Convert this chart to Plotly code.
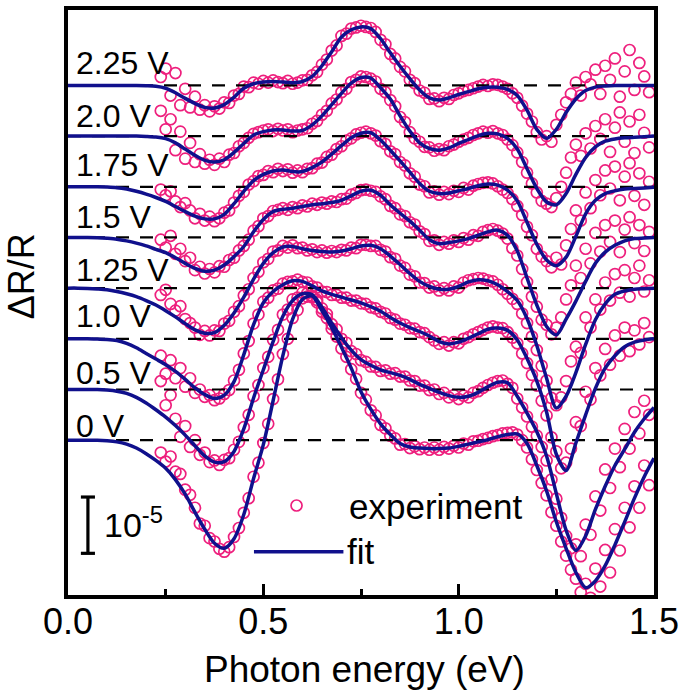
import numpy as np
import plotly.graph_objects as go

# ---------------- data (ΔR/R in units of 1e-6, relative to each curve's baseline) -------------
fit_x = np.round(np.linspace(0, 1.5, 61), 4)          # photon energy grid of fits (eV)
exp_x = np.round(np.linspace(0.2375, 1.4875, 101), 4)  # photon energy grid of experiment (eV)

voltages = ["0 V", "0.5 V", "1.0 V", "1.25 V", "1.5 V", "1.75 V", "2.0 V", "2.25 V"]
offsets = [0, 9, 18, 27, 36, 45, 54, 63]  # vertical offsets, 1e-6

fit_000 = [0,0,0,0,-0.1,-0.3,-0.7,-1.4,-2.4,-3.6,
 -5.0,-7.0,-9.6,-12.8,-15.8,-18.3,-19.2,-17.5,-13.2,-6.8,
 -0.8,7.0,15.0,21.5,25.0,25.6,23.0,20.0,16.5,12.8,
 8.6,5.5,2.9,1.0,-0.6,-1.2,-1.4,-1.5,-1.5,-1.4,
 -1.1,-0.7,-0.3,0.1,0.6,1.0,1.1,-0.6,-4.5,-9.0,
 -14.5,-19.2,-23.5,-26.2,-25.0,-22.3,-18.6,-14.5,-10.3,-6.5,-3.2]
fit_050 = [0,0,0,0,-0.1,-0.3,-0.7,-1.4,-2.4,-3.6,
 -4.9,-6.4,-8.1,-10.0,-11.8,-12.9,-12.8,-11.0,-7.0,-1.5,
 3.5,8.5,13.0,15.8,17.0,16.8,14.6,11.8,9.2,7.0,
 5.3,4.3,3.5,3.0,2.5,1.8,0.9,0.2,-0.5,-1.1,
 -1.4,-1.2,-0.5,0.5,1.3,1.2,-1.2,-4.2,-7.5,-11.8,
 -18.5,-25.0,-28.6,-26.0,-21.3,-17.2,-13.5,-10.6,-7.6,-5.2,-3.2]
fit_100 = [0,0,0,-0.05,-0.1,-0.3,-0.8,-1.6,-2.6,-3.6,
 -4.6,-5.8,-7.2,-8.7,-9.9,-10.6,-10.0,-7.6,-2.8,2.5,
 6.4,8.4,9.6,10.3,10.2,9.4,8.5,7.9,7.4,6.9,
 6.4,5.7,4.9,3.8,2.8,2.0,1.3,0.5,-0.5,-0.9,
 -0.6,0.1,0.9,1.7,1.9,1.5,-0.2,-3.5,-7.5,-13.0,
 -20.5,-23.4,-18.5,-13.5,-8.8,-5.2,-3.0,-1.4,-0.6,-0.2,0]
fit_125 = [0,0,-0.05,-0.15,-0.3,-0.6,-1.0,-1.5,-2.2,-3.0,
 -4.0,-5.1,-6.3,-7.4,-8.0,-7.9,-6.6,-4.4,-1.6,1.6,
 4.4,6.3,7.3,7.4,7.0,6.7,6.5,6.4,6.6,7.0,
 7.5,7.6,7.0,5.7,4.2,2.6,1.2,0.3,-0.2,-0.2,
 0.3,1.1,1.5,1.3,0.6,-0.6,-2.2,-5.4,-10.2,-16.0,
 -21.3,-19.2,-15.0,-10.0,-5.6,-2.8,-1.1,-0.5,-0.2,-0.1,0]
fit_150 = [0,0,0,-0.05,-0.15,-0.3,-0.6,-1.0,-1.5,-2.1,
 -2.7,-3.6,-4.6,-5.5,-6.0,-5.8,-4.9,-3.4,-1.6,1.0,
 3.2,4.6,5.0,5.2,5.5,5.8,6.0,6.2,6.6,7.4,
 8.2,8.4,7.5,5.8,4.3,2.9,1.3,-0.4,-1.1,-0.9,
 -0.6,-0.2,0.4,1.0,1.3,0.4,-2.4,-7.2,-12.0,-15.8,
 -17.3,-14.5,-11.3,-7.8,-4.6,-2.6,-1.4,-0.6,-0.2,-0.1,0]
fit_175 = [0,0,0,0,-0.05,-0.15,-0.4,-0.8,-1.3,-1.9,
 -2.6,-3.5,-4.4,-5.2,-5.7,-5.7,-4.9,-3.0,-0.8,1.1,
 2.2,2.8,3.0,2.7,2.7,3.4,4.4,5.8,7.3,8.7,
 9.5,9.6,8.3,6.5,4.6,2.6,0.6,-0.8,-1.2,-1.1,
 -0.7,-0.3,0.2,0.5,0.3,-0.6,-2.5,-6.3,-10.2,-13.0,
 -14.0,-12.5,-8.8,-4.8,-2.4,-1.2,-0.7,-0.4,-0.3,-0.2,-0.1]
fit_200 = [0,0,0,0,0,0,0,0,-0.05,-0.15,
 -0.45,-1.2,-2.3,-3.4,-4.3,-4.6,-4.2,-2.9,-1.3,0.2,
 0.8,1.1,1.1,0.9,1.0,2.0,3.6,5.6,7.6,9.4,
 10.4,10.3,8.6,6.6,3.6,0.9,-1.2,-2.2,-2.5,-2.1,
 -1.3,-0.6,0.1,0.5,0.4,-0.4,-2.3,-5.8,-9.3,-11.7,
 -12.2,-10.2,-6.8,-3.8,-1.9,-0.9,-0.5,-0.3,-0.2,-0.1,0]
fit_225 = [0,0,0,0,0,0,0,0,-0.05,-0.15,
 -0.5,-1.3,-2.3,-3.2,-3.9,-4.0,-3.4,-2.1,-0.5,0.3,
 0.6,0.7,0.6,0.5,0.7,1.6,3.5,6.0,8.6,9.9,
 10.4,10.1,8.3,5.8,3.4,1.2,-0.8,-2.2,-2.6,-2.2,
 -1.6,-1.1,-0.6,-0.3,-0.3,-0.7,-1.8,-4.4,-7.8,-9.4,
 -7.8,-4.8,-2.4,-0.9,-0.3,-0.1,0,0,0,0,0]

exp_000 = [-2.2,-3.8,-2.9,-5.6,-6.0,-8.8,-9.7,-12.0,-14.8,-15.2,
 -17.4,-18.0,-19.3,-19.8,-19.0,-17.2,-15.6,-12.9,-10.3,-6.5,
 -4.0,-0.5,2.9,7.3,10.8,15.3,18.0,21.7,23.1,25.2,
 25.5,25.4,24.5,22.8,21.7,19.8,18.4,16.3,14.8,12.6,
 10.9,8.4,7.2,5.3,4.4,2.7,2.1,0.8,0.3,-0.8,
 -0.7,-1.4,-1.1,-1.6,-1.3,-1.7,-1.3,-1.7,-1.2,-1.5,
 -1.0,-1.3,-0.6,-0.8,-0.2,-0.1,0.2,0.4,0.7,0.9,
 1.2,1.3,1.4,1.0,0.0,-1.3,-3.4,-5.3,-7.6,-9.8,
 -12.8,-15.2,-18.0,-20.5,-23.0,-24.6,-27.0,-25.5,-28.0,-22.8,
 -26.0,-19.5,-23.5,-15.8,-19.6,-12.0,-15.5,-8.2,-12.0,-4.5,
 -8.0]
exp_050 = [1.5,-2.8,-1.0,-5.2,-8.4,-6.5,-10.2,-9.0,-11.6,-11.2,
 -12.9,-12.6,-13.4,-12.5,-12.2,-10.7,-9.3,-6.7,-4.5,-1.2,
 0.8,3.8,5.8,8.8,10.6,13.3,14.2,16.0,16.3,17.2,
 17.1,16.6,15.9,14.4,13.4,11.6,10.7,9.0,8.3,6.8,
 6.3,5.2,4.9,4.1,4.0,3.3,3.4,2.8,2.9,2.3,
 2.3,1.6,1.5,0.7,0.7,-0.1,0.0,-0.8,-0.6,-1.4,
 -1.0,-1.7,-1.1,-1.4,-0.6,-0.3,0.3,0.8,1.2,1.5,
 1.6,1.0,0.3,-1.6,-3.2,-4.8,-6.6,-8.2,-10.2,-12.6,
 -16.0,-19.4,-22.8,-26.0,-28.2,-27.5,-29.6,-24.0,-25.8,-19.0,
 -21.5,-14.2,-17.5,-10.5,-13.8,-7.0,-10.5,-4.0,-7.8,-2.0,
 -4.5]
exp_100 = [-3.0,-6.2,-3.8,-7.0,-5.2,-8.5,-7.0,-9.6,-9.0,-10.3,
 -10.0,-10.9,-10.6,-9.8,-9.1,-7.4,-5.5,-2.6,-0.4,2.7,
 4.3,6.6,7.3,8.6,8.9,9.8,10.1,10.2,10.5,10.1,
 10.0,9.3,9.1,8.4,8.3,7.8,7.8,7.3,7.3,6.8,
 6.8,6.3,6.2,5.6,5.4,4.8,4.5,3.7,3.4,2.7,
 2.5,1.9,1.8,1.2,1.0,0.3,-0.3,-0.9,-0.6,-1.2,
 -0.6,-0.8,0.0,0.3,0.8,1.2,1.6,2.0,2.2,2.0,
 1.9,1.2,0.2,-0.8,-2.6,-4.3,-6.4,-8.3,-11.0,-13.6,
 -17.5,-20.0,-23.0,-22.0,-19.5,-14.8,-15.5,-9.4,-10.8,-5.2,
 -6.5,-1.8,-4.6,0.6,-3.0,2.0,-2.2,1.5,-1.0,2.8,
 0.3]
exp_125 = [-1.2,-0.3,-2.8,-4.0,-3.2,-5.5,-6.2,-7.0,-8.3,-7.6,
 -8.4,-7.5,-7.6,-6.3,-5.8,-4.2,-3.2,-1.3,-0.2,1.8,
 2.9,4.6,5.2,6.5,6.7,7.5,7.2,7.6,7.1,7.2,
 6.7,6.9,6.4,6.7,6.3,6.6,6.4,6.8,6.7,7.2,
 7.1,7.7,7.7,7.5,7.5,6.8,6.5,5.5,5.2,4.0,
 3.6,2.4,2.1,1.0,0.9,0.1,0.3,-0.4,0.0,-0.4,
 0.3,0.1,1.0,1.4,1.6,1.8,1.7,1.4,1.2,0.6,
 -0.2,-1.0,-1.9,-2.8,-4.5,-6.2,-8.6,-11.0,-13.8,-16.4,
 -19.5,-20.8,-19.4,-16.5,-13.0,-10.4,-11.5,-5.2,-7.0,-2.0,
 -3.8,1.0,-2.2,2.5,-0.8,3.2,-1.5,1.8,4.0,-0.6,
 1.4]
exp_150 = [-0.4,-1.8,0.3,-2.9,-2.0,-4.2,-3.6,-5.8,-5.2,-6.4,
 -5.6,-6.2,-5.1,-5.2,-4.0,-3.6,-2.3,-1.5,-0.4,1.2,
 2.0,3.4,3.8,4.7,4.9,5.2,4.9,5.4,5.2,5.7,
 5.5,6.0,5.8,6.2,6.0,6.4,6.3,6.8,6.9,7.6,
 7.9,8.4,8.5,8.3,8.1,7.3,6.8,5.6,5.2,4.1,
 3.8,2.7,2.3,1.1,0.6,-0.6,-0.5,-1.3,-0.8,-1.1,
 -0.5,-0.8,-0.1,-0.4,0.4,0.3,1.0,1.3,1.5,1.2,
 0.7,-0.2,-1.9,-3.2,-5.6,-7.9,-10.5,-12.3,-14.6,-15.5,
 -17.2,-16.0,-14.2,-11.0,-8.5,-5.0,-7.2,-2.0,-4.6,0.8,
 -2.5,2.2,-0.8,3.0,-2.6,1.4,3.6,-1.0,2.2,-2.4,
 1.0]
exp_175 = [-0.5,-1.5,-0.8,-2.6,-3.6,-2.9,-4.2,-5.6,-4.8,-6.0,
 -5.3,-6.1,-5.6,-4.6,-4.2,-2.8,-1.6,-0.9,0.4,1.0,
 1.9,2.1,2.8,2.6,3.2,2.8,3.1,2.5,2.9,2.6,
 3.2,3.3,4.1,4.3,5.3,5.7,6.7,7.2,8.2,8.6,
 9.3,9.6,9.8,9.5,9.1,8.1,7.6,6.3,5.8,4.4,
 3.8,2.4,1.8,0.4,0.1,-1.0,-0.8,-1.4,-0.9,-1.3,
 -0.7,-0.9,-0.2,-0.5,0.2,0.5,0.7,0.8,0.6,0.1,
 -0.5,-1.1,-2.2,-3.4,-5.0,-7.1,-8.6,-11.0,-12.4,-13.2,
 -14.3,-12.6,-13.8,-10.4,-7.5,-4.2,-6.0,-1.0,-3.8,1.2,
 -1.5,2.9,-0.3,3.6,-2.4,1.8,4.2,-1.6,2.4,-3.2,
 0.9]
exp_200 = [4.5,1.2,3.0,-2.5,0.8,-4.0,-1.2,-4.6,-3.2,-4.9,
 -4.2,-5.1,-4.0,-4.6,-3.3,-3.0,-1.8,-1.2,-0.3,0.4,
 0.7,1.0,1.2,0.9,1.3,1.0,1.2,0.7,1.0,1.2,
 1.4,2.2,2.7,3.8,4.5,5.8,6.5,7.8,8.4,9.6,
 10.0,10.6,10.5,10.2,9.7,8.4,7.8,6.4,5.3,3.4,
 2.5,0.7,-0.4,-1.0,-1.9,-2.0,-2.6,-2.3,-2.5,-1.8,
 -1.5,-1.0,-0.6,-0.3,0.2,0.5,0.8,0.6,0.9,0.5,
 0.2,-0.6,-1.6,-2.9,-4.6,-6.5,-8.4,-10.0,-11.5,-12.0,
 -12.6,-11.0,-9.0,-6.5,-3.8,-1.5,-3.5,0.5,-2.2,1.8,
 -0.5,3.0,-2.8,1.5,4.2,-1.0,2.6,-3.0,3.8,0.6,
 -2.0]
exp_225 = [1.5,3.0,-1.8,2.2,-3.5,-0.6,-3.9,-2.0,-4.3,-3.5,
 -4.6,-3.7,-4.1,-3.0,-3.1,-1.8,-1.5,-0.2,-0.3,0.5,
 0.3,0.8,0.5,0.9,0.6,0.4,0.8,0.3,0.5,0.9,
 1.0,1.8,2.4,3.7,4.6,6.2,7.1,8.8,9.2,10.1,
 10.3,10.6,10.4,10.2,9.5,8.1,7.3,5.6,4.8,3.3,
 2.5,1.0,0.4,-0.9,-1.3,-2.4,-2.3,-2.8,-2.2,-2.4,
 -1.7,-1.4,-1.0,-0.8,-0.5,-0.2,0.1,-0.1,0.2,0.1,
 -0.2,-0.6,-1.4,-2.2,-3.6,-5.0,-6.4,-8.3,-9.6,-9.0,
 -10.0,-7.0,-5.2,-3.0,-1.5,0.5,-1.8,1.5,0.2,2.8,
 -1.5,3.5,1.0,4.8,-2.0,2.5,6.3,-0.8,4.0,1.6,
 -1.2]

fits = [fit_000, fit_050, fit_100, fit_125, fit_150, fit_175, fit_200, fit_225]
exps = [exp_000, exp_050, exp_100, exp_125, exp_150, exp_175, exp_200, exp_225]

x_ticks = [0.0, 0.5, 1.0, 1.5]
x_tick_text = ["0.0", "0.5", "1.0", "1.5"]
x_minor_ticks = [0.25, 0.75, 1.25]
scale_bar = 10  # 1e-5 expressed in units of 1e-6

# ---------------- styling ----------------
PINK = "#ee1f7d"
NAVY = "#10108c"
FONT = "Liberation Sans, Arial, Helvetica, sans-serif"
label_dy = [2.6, 3.0, 4.1, 3.3, 3.7, 3.9, 3.5, 3.9]  # label heights above baselines

fig = go.Figure()

# experimental data
for off, ev in zip(offsets, exps):
    fig.add_trace(go.Scatter(
        x=exp_x, y=np.array(ev) + off, mode="markers",
        marker=dict(symbol="circle-open", size=11, color=PINK, line=dict(width=1.7, color=PINK)),
        showlegend=False, hoverinfo="skip"))

# dashed baselines
for off in offsets:
    fig.add_trace(go.Scatter(
        x=[0, 1.5], y=[off, off], mode="lines",
        line=dict(color="black", width=2.2, dash="13px,11px"),
        showlegend=False, hoverinfo="skip"))

# fits
for off, fv in zip(offsets, fits):
    fig.add_trace(go.Scatter(
        x=fit_x, y=np.array(fv) + off, mode="lines",
        line=dict(color=NAVY, width=3.5, shape="spline", smoothing=0.8),
        showlegend=False, hoverinfo="skip"))

# manual legend
fig.add_trace(go.Scatter(x=[0.585], y=[-11.6], mode="markers",
                         marker=dict(symbol="circle-open", size=11, color=PINK,
                                     line=dict(width=1.7, color=PINK)),
                         showlegend=False, hoverinfo="skip"))
fig.add_trace(go.Scatter(x=[0.476, 0.705], y=[-19.8, -19.8], mode="lines",
                         line=dict(color=NAVY, width=3.5),
                         showlegend=False, hoverinfo="skip"))

annotations = []
for off, lab, dy in zip(offsets, voltages, label_dy):
    annotations.append(dict(x=0.015, y=off + dy, xref="x", yref="y", text=lab,
                            showarrow=False, xanchor="left", yanchor="middle",
                            font=dict(size=32, color="black", family=FONT)))
annotations += [
    dict(x=0.714, y=-11.8, xref="x", yref="y", text="experiment", showarrow=False,
         xanchor="left", yanchor="middle", font=dict(size=35, color="black", family=FONT)),
    dict(x=0.708, y=-19.8, xref="x", yref="y", text="fit", showarrow=False,
         xanchor="left", yanchor="middle", font=dict(size=35, color="black", family=FONT)),
    dict(x=0.086, y=-14.6, xref="x", yref="y", text="10<sup>-5</sup>", showarrow=False,
         xanchor="left", yanchor="middle", font=dict(size=34, color="black", family=FONT)),
    dict(x=0.506, y=-0.127, xref="paper", yref="paper", text="Photon energy (eV)",
         showarrow=False, xanchor="center", yanchor="middle",
         font=dict(size=37, color="black", family=FONT)),
    dict(x=-0.080, y=0.545, xref="paper", yref="paper", text="ΔR/R", textangle=-90,
         showarrow=False, xanchor="center", yanchor="middle",
         font=dict(size=36, color="black", family=FONT)),
]

sb_x, sb_y0 = 0.051, -20.1
shapes = [
    dict(type="line", xref="x", yref="y", x0=sb_x, x1=sb_x, y0=sb_y0, y1=sb_y0 + scale_bar,
         line=dict(color="black", width=3.2)),
    dict(type="line", xref="x", yref="y", x0=sb_x - 0.018, x1=sb_x + 0.018, y0=sb_y0, y1=sb_y0,
         line=dict(color="black", width=3.2)),
    dict(type="line", xref="x", yref="y", x0=sb_x - 0.018, x1=sb_x + 0.018,
         y0=sb_y0 + scale_bar, y1=sb_y0 + scale_bar, line=dict(color="black", width=3.2)),
]

fig.update_layout(
    width=685, height=696,
    margin=dict(l=68, r=28, t=6, b=101),
    paper_bgcolor="white", plot_bgcolor="white",
    font=dict(family=FONT, color="black"),
    annotations=annotations, shapes=shapes,
    showlegend=False,
)
fig.update_xaxes(
    range=[0, 1.5], tickvals=x_ticks, ticktext=x_tick_text,
    ticks="inside", ticklen=11, tickwidth=3, tickcolor="black",
    minor=dict(tickvals=x_minor_ticks, ticks="inside", ticklen=6, tickwidth=3, tickcolor="black"),
    showline=True, linewidth=3.5, linecolor="black", mirror=True,
    showgrid=False, zeroline=False, ticklabelstandoff=-8,
    tickfont=dict(size=36, family=FONT, color="black"),
)
fig.update_yaxes(
    range=[-27.5, 76.4], showticklabels=False, ticks="",
    showline=True, linewidth=3.5, linecolor="black", mirror=True,
    showgrid=False, zeroline=False,
)

fig.write_html("out.html", config={"displayModeBar": False},
               post_script="document.body.style.margin='0px';")
